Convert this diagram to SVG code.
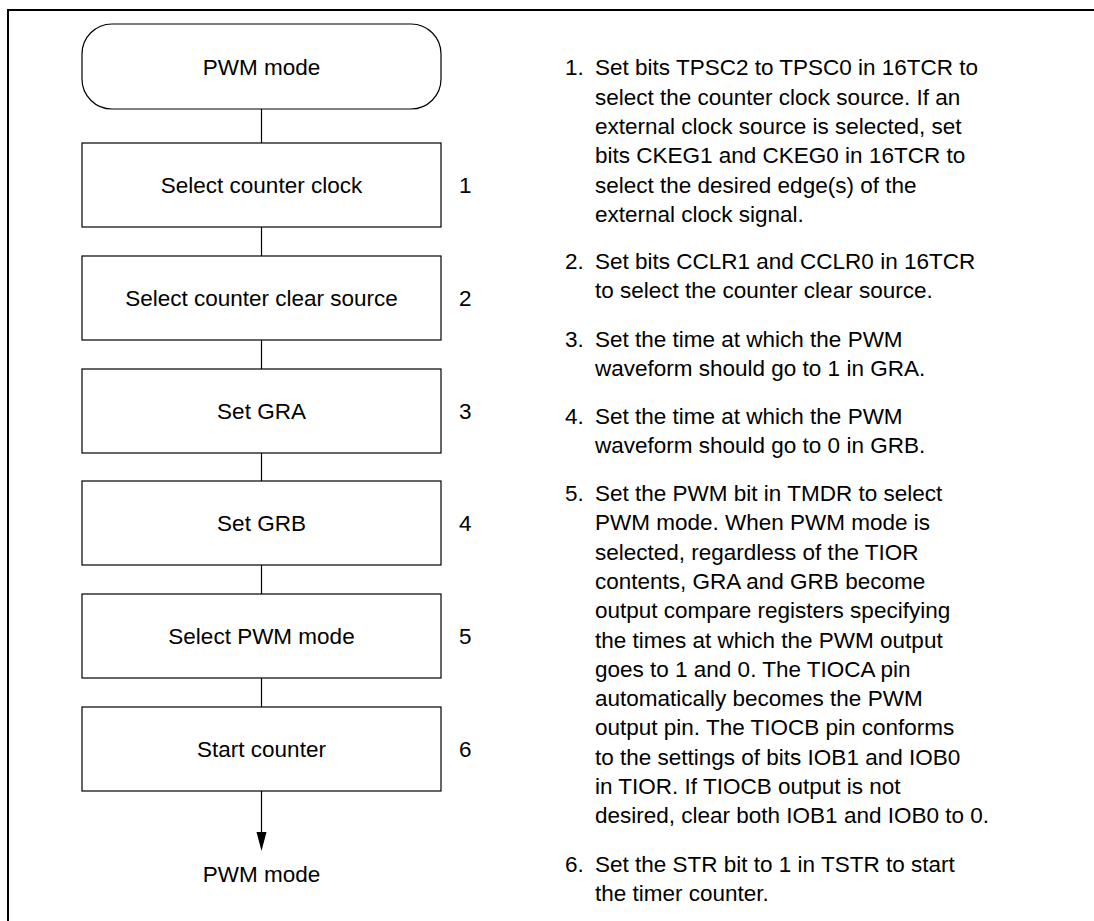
<svg xmlns="http://www.w3.org/2000/svg" width="1094" height="921" viewBox="0 0 1094 921">
<style>
text{font-family:"Liberation Sans",Arial,sans-serif;font-size:22.5px;fill:#000}
.node{fill:#fff;stroke:#000;stroke-width:1.2}
.lbl{text-anchor:middle}
.conn{stroke:#000;stroke-width:1.2;fill:none}
</style>
<defs>
<marker id="arr" markerWidth="10" markerHeight="18" refX="5" refY="18" orient="auto-start-reverse" markerUnits="userSpaceOnUse" viewBox="0 0 10 18">
<path d="M0,0 L10,0 L5,18 Z" fill="#000" transform="rotate(0)"/>
</marker>
</defs>
<rect width="1094" height="921" fill="#fff"/>
<path d="M8,921 V10 H1094" fill="none" stroke="#000" stroke-width="2"/>
<g id="connectors">
<line class="conn" x1="261.5" y1="109" x2="261.5" y2="143"/>
<line class="conn" x1="261.5" y1="227" x2="261.5" y2="256"/>
<line class="conn" x1="261.5" y1="340" x2="261.5" y2="369"/>
<line class="conn" x1="261.5" y1="453" x2="261.5" y2="481"/>
<line class="conn" x1="261.5" y1="565" x2="261.5" y2="594"/>
<line class="conn" x1="261.5" y1="678" x2="261.5" y2="707"/>
<line class="conn" x1="261.5" y1="791" x2="261.5" y2="832"/>
<path d="M256.5,832 L266.5,832 L261.5,851 Z" fill="#000"/>
</g>
<g id="start">
<rect class="node" x="82" y="24" width="359" height="85" rx="30" ry="30"/>
<text class="lbl" x="261.5" y="75">PWM mode</text>
</g>
<g id="step1">
<rect class="node" x="82" y="143" width="359" height="84"/>
<text class="lbl" x="261.5" y="193">Select counter clock</text>
<text x="459" y="193">1</text>
</g>
<g id="step2">
<rect class="node" x="82" y="256" width="359" height="84"/>
<text class="lbl" x="261.5" y="306">Select counter clear source</text>
<text x="459" y="306">2</text>
</g>
<g id="step3">
<rect class="node" x="82" y="369" width="359" height="84"/>
<text class="lbl" x="261.5" y="419">Set GRA</text>
<text x="459" y="419">3</text>
</g>
<g id="step4">
<rect class="node" x="82" y="481" width="359" height="84"/>
<text class="lbl" x="261.5" y="531">Set GRB</text>
<text x="459" y="531">4</text>
</g>
<g id="step5">
<rect class="node" x="82" y="594" width="359" height="84"/>
<text class="lbl" x="261.5" y="644">Select PWM mode</text>
<text x="459" y="644">5</text>
</g>
<g id="step6">
<rect class="node" x="82" y="707" width="359" height="84"/>
<text class="lbl" x="261.5" y="757">Start counter</text>
<text x="459" y="757">6</text>
</g>
<g id="end">
<text class="lbl" x="261.5" y="882">PWM mode</text>
</g>
<g id="notes">
<text x="565" y="75.3">1.</text>
<text x="595" y="75.3">Set bits TPSC2 to TPSC0 in 16TCR to</text>
<text x="595" y="104.6">select the counter clock source. If an</text>
<text x="595" y="133.9">external clock source is selected, set</text>
<text x="595" y="163.2">bits CKEG1 and CKEG0 in 16TCR to</text>
<text x="595" y="192.5">select the desired edge(s) of the</text>
<text x="595" y="221.8">external clock signal.</text>
<text x="565" y="268.7">2.</text>
<text x="595" y="268.7">Set bits CCLR1 and CCLR0 in 16TCR</text>
<text x="595" y="298">to select the counter clear source.</text>
<text x="565" y="346.7">3.</text>
<text x="595" y="346.7">Set the time at which the PWM</text>
<text x="595" y="376">waveform should go to 1 in GRA.</text>
<text x="565" y="424">4.</text>
<text x="595" y="424">Set the time at which the PWM</text>
<text x="595" y="453.3">waveform should go to 0 in GRB.</text>
<text x="565" y="501">5.</text>
<text x="595" y="501">Set the PWM bit in TMDR to select</text>
<text x="595" y="530.3">PWM mode. When PWM mode is</text>
<text x="595" y="559.6">selected, regardless of the TIOR</text>
<text x="595" y="588.9">contents, GRA and GRB become</text>
<text x="595" y="618.2">output compare registers specifying</text>
<text x="595" y="647.5">the times at which the PWM output</text>
<text x="595" y="676.8">goes to 1 and 0. The TIOCA pin</text>
<text x="595" y="706.1">automatically becomes the PWM</text>
<text x="595" y="735.4">output pin. The TIOCB pin conforms</text>
<text x="595" y="764.7">to the settings of bits IOB1 and IOB0</text>
<text x="595" y="794">in TIOR. If TIOCB output is not</text>
<text x="595" y="823.3">desired, clear both IOB1 and IOB0 to 0.</text>
<text x="565" y="871.7">6.</text>
<text x="595" y="871.7">Set the STR bit to 1 in TSTR to start</text>
<text x="595" y="901">the timer counter.</text>
</g>
</svg>
